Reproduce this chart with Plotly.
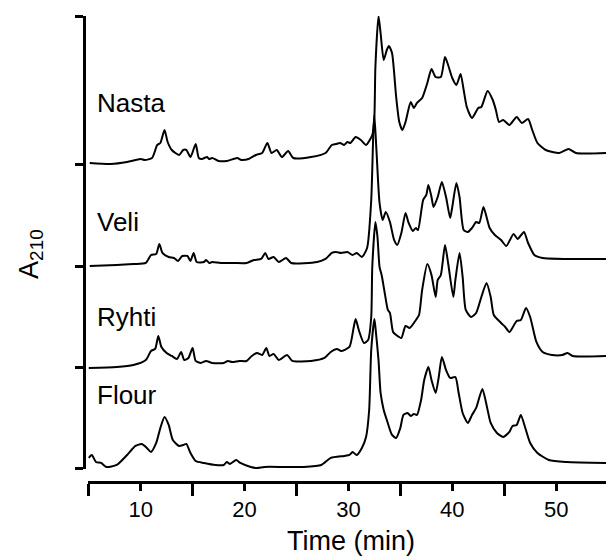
import plotly.graph_objects as go

# Reversed-phase HPLC profiles (absorbance at 210 nm) of four samples.
# Each series: retention time (min) and detector signal above its own baseline.

nasta_time = [5.1, 7.1, 8.7, 10.0, 10.4, 11.1, 11.6, 11.9, 12.3, 12.6, 13.0, 13.7, 14.1, 14.4,
              14.8, 15.3, 15.6, 15.9, 16.4, 16.6, 16.9, 17.5, 18.3, 19.3, 19.7, 20.4, 21.1, 21.7,
              22.2, 22.6, 23.1, 23.6, 24.2, 24.7, 26.4, 27.8, 28.4, 28.8, 29.2, 29.6, 29.9, 30.2,
              30.7, 31.2, 31.7, 32.3, 32.5, 32.6, 32.9, 33.1, 33.4, 33.7, 33.9, 34.2, 34.6, 34.9,
              35.2, 35.5, 36.0, 36.3, 36.6, 37.1, 37.6, 38.0, 38.4, 38.9, 39.3, 39.6, 40.0, 40.4,
              40.8, 41.1, 41.4, 41.9, 42.5, 42.8, 43.4, 43.9, 44.2, 44.5, 44.9, 45.5, 46.2, 46.7,
              47.3, 47.7, 48.2, 49.0, 50.3, 51.2, 51.9, 54.8]
nasta_signal = [2, 1, 3, 6, 5, 7, 20, 22, 35, 23, 15, 10, 15, 15,
                8, 21, 7, 6, 8, 6, 7, 4, 4, 7, 5, 6, 10, 12,
                22, 12, 15, 8, 14, 7, 8, 12, 20, 21, 22, 20, 23, 22,
                28, 25, 20, 30, 48, 98, 149, 132, 105, 115, 119, 112, 68, 43,
                35, 43, 63, 57, 62, 67, 82, 96, 88, 88, 108, 100, 87, 80,
                91, 75, 58, 47, 57, 58, 74, 65, 55, 43, 45, 40, 48, 42,
                46, 35, 22, 15, 12, 16, 12, 12]

veli_time = [5.1, 7.7, 9.3, 10.5, 11.0, 11.5, 11.8, 12.1, 12.7, 13.2, 13.6, 14.0, 14.5, 14.8,
             15.1, 15.4, 16.1, 16.3, 16.6, 16.9, 17.7, 19.0, 20.2, 20.9, 21.6, 22.0, 22.3, 22.8,
             23.3, 24.0, 24.5, 27.0, 27.8, 28.4, 28.8, 29.3, 29.9, 30.4, 30.8, 31.3, 31.8, 32.2,
             32.4, 32.5, 32.7, 33.0, 33.3, 33.6, 34.0, 34.4, 34.7, 35.1, 35.5, 35.8, 36.2, 36.5,
             36.7, 37.2, 37.5, 37.7, 38.0, 38.2, 38.6, 39.0, 39.4, 39.8, 40.0, 40.4, 40.7, 41.1,
             41.5, 41.9, 42.3, 42.6, 43.0, 43.3, 43.6, 44.1, 44.7, 45.2, 45.9, 46.3, 46.9, 47.3,
             47.9, 48.7, 54.8]
veli_signal = [1, 2, 3, 4, 12, 13, 23, 14, 10, 9, 6, 11, 11, 6,
               14, 5, 5, 7, 4, 5, 4, 4, 4, 7, 8, 14, 8, 10,
               5, 9, 4, 5, 8, 14, 15, 14, 15, 12, 14, 10, 19, 67,
               134, 152, 117, 64, 47, 55, 45, 27, 22, 34, 54, 44, 36, 39,
               37, 67, 72, 82, 70, 60, 70, 85, 70, 49, 60, 84, 70, 37,
               35, 39, 45, 44, 60, 50, 39, 32, 27, 21, 33, 28, 35, 24,
               12, 9, 8]

ryhti_time = [5.0, 7.7, 9.3, 10.5, 11.0, 11.4, 11.7, 12.0, 12.5, 13.0, 13.5, 13.9, 14.2, 14.6,
              15.0, 15.3, 15.8, 16.3, 16.9, 18.0, 18.4, 18.8, 19.5, 20.2, 20.7, 21.2, 21.7, 22.1,
              22.4, 22.8, 23.3, 24.1, 24.6, 26.4, 27.7, 28.3, 28.9, 29.3, 30.1, 30.5, 30.7, 31.0,
              31.5, 31.9, 32.2, 32.3, 32.6, 32.8, 33.0, 33.2, 33.5, 33.8, 34.0, 34.3, 34.6, 35.1,
              35.5, 35.9, 36.5, 36.8, 37.1, 37.6, 38.0, 38.4, 38.6, 38.9, 39.3, 39.6, 40.1, 40.3,
              40.7, 41.0, 41.3, 41.8, 42.3, 42.8, 43.3, 43.7, 44.0, 44.7, 45.1, 45.5, 46.2, 46.6,
              47.1, 47.5, 48.1, 48.7, 49.6, 50.6, 51.1, 51.6, 54.8]
ryhti_signal = [0, 1, 3, 8, 17, 19, 32, 21, 15, 12, 9, 16, 8, 10,
                20, 7, 5, 7, 5, 5, 7, 6, 7, 7, 12, 15, 13, 20,
                12, 14, 8, 13, 7, 7, 10, 16, 19, 17, 21, 40, 49, 38,
                25, 28, 51, 101, 146, 131, 101, 93, 75, 58, 55, 36, 33, 30,
                42, 40, 48, 53, 78, 104, 93, 71, 88, 93, 123, 105, 71, 88,
                115, 91, 58, 51, 55, 71, 85, 71, 53, 45, 41, 36, 47, 48,
                60, 51, 26, 16, 13, 13, 15, 12, 12]

flour_time = [5.0, 5.3, 5.7, 6.2, 6.7, 7.7, 8.7, 9.5, 10.1, 10.6, 11.0, 11.5, 11.9, 12.3,
              12.7, 13.1, 13.7, 14.1, 14.4, 14.8, 15.3, 16.1, 17.2, 18.0, 18.3, 18.6, 19.2, 19.6,
              20.6, 21.2, 21.9, 23.8, 25.7, 27.4, 28.3, 29.6, 30.1, 30.4, 30.8, 31.3, 31.7, 32.0,
              32.2, 32.5, 32.6, 32.9, 33.1, 33.4, 33.7, 34.2, 34.6, 35.0, 35.3, 35.7, 36.0, 36.3,
              36.6, 37.0, 37.3, 37.7, 38.0, 38.4, 38.7, 39.0, 39.4, 39.8, 40.3, 40.6, 41.0, 41.5,
              41.9, 42.3, 42.9, 43.3, 43.7, 44.3, 44.9, 45.5, 45.8, 46.2, 46.6, 47.0, 47.5, 48.2,
              49.3, 51.0, 54.8]
flour_signal = [11, 14, 7, 6, 2, 4, 14, 23, 25, 21, 17, 26, 41, 52,
                44, 29, 23, 24, 25, 16, 8, 6, 4, 4, 7, 5, 9, 6,
                2, 1, 2, 2, 2, 4, 11, 13, 14, 17, 14, 21, 32, 59,
                119, 150, 142, 109, 76, 59, 49, 34, 31, 41, 54, 56, 53, 55,
                54, 69, 89, 102, 89, 76, 92, 112, 99, 91, 92, 77, 56, 46,
                54, 61, 80, 64, 46, 36, 32, 37, 43, 44, 54, 42, 26, 16,
                9, 7, 6]

sample_names = ["Nasta", "Veli", "Ryhti", "Flour"]
x_tick_values = [10, 20, 30, 40, 50]
x_tick_labels = ["10", "20", "30", "40", "50"]

# vertical stacking of the chromatograms (signal units)
stack_offsets = [304, 202, 101, 0]
axis_top = 453

series = [
    (nasta_time, nasta_signal),
    (veli_time, veli_signal),
    (ryhti_time, ryhti_signal),
    (flour_time, flour_signal),
]

FONT = "Liberation Sans, Arial, Helvetica, sans-serif"

fig = go.Figure()
for name, (t, s), off in zip(sample_names, series, stack_offsets):
    fig.add_trace(go.Scatter(
        x=t, y=[v + off for v in s], mode="lines", name=name,
        line=dict(color="black", width=2, shape="spline", smoothing=0.6),
        showlegend=False,
    ))

label_heights = [366, 247, 152, 74]
for name, yh in zip(sample_names, label_heights):
    fig.add_annotation(x=5.6, y=yh, xref="x", yref="y", text=name, showarrow=False,
                       xanchor="left", yanchor="middle",
                       font=dict(family=FONT, size=26, color="black"))

fig.add_annotation(x=-0.103, y=0.49, xref="paper", yref="paper", text="A<sub>210</sub>",
                   textangle=-90, showarrow=False, xanchor="center", yanchor="middle",
                   font=dict(family=FONT, size=27, color="black"))
fig.add_annotation(x=0.512, y=-0.126, xref="paper", yref="paper", text="Time (min)",
                   showarrow=False, xanchor="center", yanchor="middle",
                   font=dict(family=FONT, size=27, color="black"))

fig.update_layout(
    width=606, height=556,
    margin=dict(l=84, r=0, t=16, b=74),
    paper_bgcolor="white", plot_bgcolor="white",
    xaxis=dict(
        domain=[0.008, 1], range=[4.95, 54.8], anchor="free", position=0,
        showline=True, linecolor="black", linewidth=3, mirror=False,
        showgrid=False, zeroline=False,
        tickmode="array", tickvals=x_tick_values, ticktext=x_tick_labels,
        ticks="outside", ticklen=7, tickwidth=3, tickcolor="black",
        tickfont=dict(family=FONT, size=22, color="black"),
        minor=dict(tickvals=[5, 15, 25, 35, 45, 55], ticks="outside", ticklen=12,
                   tickwidth=3, tickcolor="black", showgrid=False),
    ),
    yaxis=dict(
        domain=[0.028, 1], range=[0, axis_top], anchor="free", position=0,
        showline=True, linecolor="black", linewidth=3,
        showgrid=False, zeroline=False,
        tickmode="array", tickvals=[0, 101, 202, 304, axis_top],
        ticks="outside", ticklen=8, tickwidth=3, tickcolor="black",
        showticklabels=False,
    ),
)

fig.write_html("out.html")
